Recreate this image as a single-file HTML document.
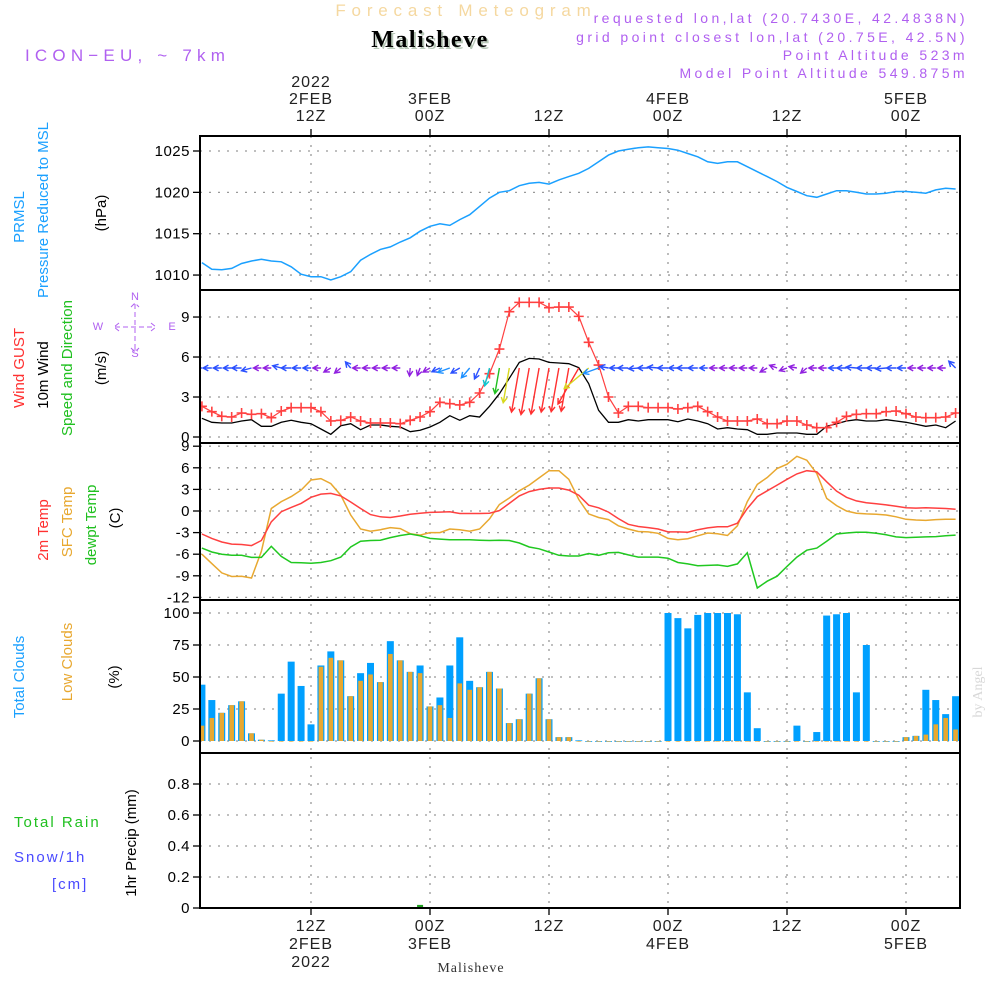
<!DOCTYPE html>
<html><head><meta charset="utf-8"><style>
html,body{margin:0;padding:0;background:#fff;}
svg{display:block;font-family:"Liberation Sans",sans-serif;}
</style></head><body>
<svg id="chart" width="1000" height="1000" viewBox="0 0 1000 1000" xmlns="http://www.w3.org/2000/svg">
<defs>
<clipPath id="c1"><rect x="200" y="136" width="760" height="154"/></clipPath>
<clipPath id="c2"><rect x="200" y="290" width="760" height="153"/></clipPath>
<clipPath id="c3"><rect x="200" y="443" width="760" height="157"/></clipPath>
<clipPath id="c4"><rect x="200" y="600" width="760" height="153"/></clipPath>
<clipPath id="c5"><rect x="200" y="753" width="760" height="155"/></clipPath>
</defs>
<g>
<text x="466" y="16" text-anchor="middle" font-size="17" fill="#f5d8a0" letter-spacing="5.8">Forecast Meteogram</text>
<text x="432" y="49" text-anchor="middle" font-size="24" font-weight="bold" font-family="Liberation Serif,serif" fill="#b8c8b8" letter-spacing="1.5">Malisheve</text>
<text x="430" y="47" text-anchor="middle" font-size="24" font-weight="bold" font-family="Liberation Serif,serif" fill="#000" letter-spacing="1.5">Malisheve</text>
<text x="25" y="61" font-size="17" fill="#b060f0" letter-spacing="5.2">ICON−EU, ~ 7km</text>
<g font-size="14" fill="#b060f0" text-anchor="end" letter-spacing="3.4">
<text x="968" y="23">requested lon,lat (20.7430E, 42.4838N)</text>
<text x="968" y="42">grid point closest lon,lat (20.75E, 42.5N)</text>
<text x="968" y="60">Point Altitude 523m</text>
<text x="968" y="78">Model Point Altitude 549.875m</text>
</g>
</g>
<g id="grid"></g>
<g id="marks"></g>
<g id="axes"></g>
<g font-size="15">
<text transform="translate(24,217) rotate(-90)" text-anchor="middle" fill="#1aa0ff">PRMSL</text>
<text transform="translate(48,210) rotate(-90)" text-anchor="middle" fill="#1aa0ff">Pressure Reduced to MSL</text>
<text transform="translate(106,213) rotate(-90)" text-anchor="middle" fill="#000">(hPa)</text>
<text transform="translate(24,368) rotate(-90)" text-anchor="middle" fill="#ff3030">Wind GUST</text>
<text transform="translate(48,375) rotate(-90)" text-anchor="middle" fill="#000">10m Wind</text>
<text transform="translate(72,368) rotate(-90)" text-anchor="middle" fill="#20c020">Speed and Direction</text>
<text transform="translate(106,368) rotate(-90)" text-anchor="middle" fill="#000">(m/s)</text>
<g fill="#b060f0" stroke="#b060f0" font-size="11">
<text x="135" y="300" text-anchor="middle" stroke="none">N</text>
<text x="135" y="357" text-anchor="middle" stroke="none">S</text>
<text x="98" y="330" text-anchor="middle" stroke="none">W</text>
<text x="172" y="330" text-anchor="middle" stroke="none">E</text>
<path d="M135 304 V351 M115 327 H155 M131 307 L135 303 L139 307 M131 348 L135 352 L139 348 M119 323 L114 327 L119 331 M151 323 L156 327 L151 331" fill="none" stroke-width="1" stroke-dasharray="5,3"/>
</g>
<text transform="translate(48,530) rotate(-90)" text-anchor="middle" fill="#ff3030">2m Temp</text>
<text transform="translate(72,522) rotate(-90)" text-anchor="middle" fill="#e8a830">SFC Temp</text>
<text transform="translate(96,525) rotate(-90)" text-anchor="middle" fill="#20c020">dewpt Temp</text>
<text transform="translate(120,518) rotate(-90)" text-anchor="middle" fill="#000">(C)</text>
<text transform="translate(24,677) rotate(-90)" text-anchor="middle" fill="#1aa0ff">Total Clouds</text>
<text transform="translate(72,662) rotate(-90)" text-anchor="middle" fill="#e8a830">Low Clouds</text>
<text transform="translate(119,677) rotate(-90)" text-anchor="middle" fill="#000">(%)</text>
<text x="14" y="827" fill="#20c020" letter-spacing="2">Total   Rain</text>
<text x="14" y="862" fill="#4a4aff" letter-spacing="2">Snow/1h</text>
<text x="52" y="889" fill="#4a4aff" letter-spacing="2">[cm]</text>
<text transform="translate(136,843) rotate(-90)" text-anchor="middle" fill="#000">1hr Precip (mm)</text>
</g>
<text transform="translate(982,692) rotate(-90)" text-anchor="middle" font-size="14" font-family="Liberation Serif,serif" fill="#d8d8d8">by Angel</text>
<text x="471" y="972" text-anchor="middle" font-size="14" font-family="Liberation Serif,serif" fill="#333" letter-spacing="1">Malisheve</text>
</svg>
<script>
// ---- data (hourly from t=1h after 00Z 2FEB) ----
const hours = Array.from({length:77},(_,i)=>i+1);
const pressure = [1011.5,1010.7,1010.65,1010.8,1011.4,1011.7,1011.9,1011.7,1011.6,1011.0,1010.1,1009.8,1009.8,1009.4,1009.8,1010.4,1011.8,1012.5,1013.1,1013.4,1014.0,1014.5,1015.3,1015.9,1016.2,1016.0,1016.7,1017.3,1018.3,1019.3,1020.0,1020.2,1020.8,1021.1,1021.2,1021.0,1021.5,1021.9,1022.3,1022.9,1023.7,1024.5,1025.0,1025.2,1025.4,1025.5,1025.4,1025.3,1025.1,1024.7,1024.3,1023.7,1023.5,1023.7,1023.7,1023.1,1022.5,1021.9,1021.3,1020.6,1020.1,1019.6,1019.4,1019.8,1020.2,1020.2,1020.0,1019.8,1019.8,1019.9,1020.1,1020.1,1020.0,1019.9,1020.3,1020.5,1020.4];
const gust = [2.3,1.9,1.55,1.5,1.8,1.7,1.75,1.45,1.95,2.2,2.2,2.2,1.9,1.2,1.25,1.5,1.2,1.05,1.05,1.05,1.0,1.25,1.5,1.9,2.6,2.5,2.4,2.6,3.3,4.75,6.6,9.4,10.1,10.1,10.1,9.7,9.75,9.75,9.05,7.1,5.4,3.0,1.8,2.3,2.3,2.2,2.2,2.2,2.1,2.2,2.3,1.9,1.5,1.2,1.2,1.2,1.35,1.0,1.0,1.2,1.2,0.9,0.7,0.7,1.1,1.55,1.7,1.75,1.75,1.9,1.95,1.75,1.5,1.45,1.45,1.5,1.8];
const windSpeed = [1.4,1.1,1.05,1.05,1.2,1.3,0.8,0.8,1.1,1.25,1.1,1.0,0.6,0.2,0.85,1.0,0.55,0.9,0.9,0.8,0.75,0.4,0.5,0.75,1.1,1.6,1.25,1.6,1.5,2.3,3.25,4.4,5.6,5.9,5.85,5.6,5.55,5.5,5.2,4.0,2.0,1.1,1.1,1.3,1.2,1.3,1.3,1.3,1.15,1.35,1.2,1.0,0.6,0.7,0.6,0.55,0.2,0.2,0.3,0.3,0.3,0.2,0.2,0.8,1.0,1.2,1.3,1.2,1.2,1.3,1.2,1.1,0.95,0.8,0.9,0.7,1.2];
const windToDeg = [180,180,180,180,180,165,180,180,195,180,180,180,180,150,140,230,180,180,180,180,180,95,110,150,155,160,150,130,115,105,100,100,100,100,100,100,100,100,120,140,160,190,180,180,175,180,185,180,180,180,180,180,180,180,180,180,180,150,200,160,190,140,180,180,180,180,185,180,180,175,180,180,180,180,180,180,225];
const temp2m = [-3.2,-3.8,-4.3,-4.6,-4.65,-4.8,-4.1,-1.5,-0.1,0.5,1.05,1.9,2.35,2.45,2.1,1.25,0.35,-0.5,-0.8,-0.9,-0.7,-0.45,-0.3,-0.2,-0.15,-0.1,-0.35,-0.35,-0.35,-0.3,0.05,1.05,2.1,2.7,3.0,3.2,3.2,2.9,2.2,0.8,0.45,-0.15,-1.05,-1.85,-2.15,-2.3,-2.5,-2.9,-2.9,-2.95,-2.6,-2.35,-2.2,-2.2,-1.7,0.35,2.0,2.8,3.6,4.4,5.15,5.6,5.45,4.05,2.75,1.9,1.4,1.15,1.0,0.85,0.65,0.45,0.4,0.45,0.4,0.35,0.25];
const tempSfc = [-6.0,-7.3,-8.6,-9.1,-9.05,-9.3,-5.6,0.35,1.3,2.0,2.9,4.3,4.5,3.8,2.2,-0.55,-2.5,-2.8,-2.6,-2.3,-2.45,-3.15,-3.35,-3.0,-3.0,-2.5,-2.6,-2.8,-2.5,-1.1,0.9,1.8,2.8,3.6,4.6,5.6,5.6,4.4,1.6,-0.4,-0.9,-1.2,-2.05,-2.5,-2.85,-2.9,-3.1,-3.8,-4.0,-3.85,-3.45,-3.05,-3.15,-3.4,-2.05,1.3,3.7,4.65,5.9,6.5,7.6,7.05,5.2,1.75,0.75,0,-0.3,-0.4,-0.45,-0.55,-0.8,-1.15,-1.25,-1.3,-1.2,-1.15,-1.15];
const dewpoint = [-5.15,-5.7,-6.0,-6.15,-6.15,-6.45,-6.45,-4.9,-6.3,-7.15,-7.2,-7.25,-7.15,-6.9,-6.4,-5.0,-4.2,-4.1,-4.05,-3.7,-3.4,-3.2,-3.45,-3.8,-3.9,-4.0,-4.0,-4.0,-4.05,-4.1,-4.05,-4.1,-4.45,-5.0,-5.25,-5.7,-6.15,-6.25,-6.25,-5.9,-6.15,-5.8,-5.75,-6.1,-6.4,-6.4,-6.4,-6.55,-7.15,-7.35,-7.6,-7.55,-7.5,-7.7,-7.35,-5.8,-10.7,-9.75,-9.05,-7.7,-6.4,-5.45,-5.15,-4.2,-3.2,-3.05,-2.95,-2.95,-3.1,-3.3,-3.6,-3.7,-3.65,-3.6,-3.55,-3.45,-3.35];
const totalClouds = [44,32,22,28,31,6,1,0.5,37,62,43,13,59,70,63,35,53,61,46,78,63,54,59,27,34,59,81,47,42,54,41,14,17,37,49,17,3,3,0.5,0,0,0,0,0,0,0,0,100,96,88,98.5,100,100,100,99,38,10,0,0,0,12,0,7,98,99,100,38,75,0,0,0,3,4,40,32,21,35];
const lowClouds = [12,18,22,28,31,6,1,0,0,0,0,0,58,65,63,35,47,52,46,68,63,54,53,27,28,18,45,40,42,54,41,14,17,37,49,17,3,3,0,0,0,0,0,0,0,0,0,0,0,0,0,0,0,0,0,0,0,0,0,0,0,0,0,0,0,0,0,0,0,0,0,3,4,5,13,18,9];
const precip = [0,0,0,0,0,0,0,0,0,0,0,0,0,0,0,0,0,0,0,0,0,0,0.02,0,0,0,0,0,0,0,0,0,0,0,0,0,0,0,0,0,0,0,0,0,0,0,0,0,0,0,0,0,0,0,0,0,0,0,0,0,0,0,0,0,0,0,0,0,0,0,0,0,0,0,0,0,0];
const pressureTicks = [1010,1015,1020,1025];
const windTicks = [0,3,6,9];
const tempTicks = [-12,-9,-6,-3,0,3,6,9];
const cloudTicks = [0,25,50,75,100];
const precipTicks = [0,0.2,0.4,0.6,0.8];
const timeTickHours = [12,24,36,48,60,72];
const topTimeLabels = [["2022","2FEB","12Z"],["3FEB","00Z"],["12Z"],["4FEB","00Z"],["12Z"],["5FEB","00Z"]];
const bottomTimeLabels = [["12Z","2FEB","2022"],["00Z","3FEB"],["12Z"],["00Z","4FEB"],["12Z"],["00Z","5FEB"]];

// ---- scales ----
const X0=200,X1=960;
const xT = t => 311 + (t-12)*119/12;
const yP = v => 151 + (1025-v)*8.27;
const yW = v => 437 - v*13.33;
const yT = v => 511 - v*7.2;
const yC = v => 741 - v*1.28;
const yR = v => 908 - v*155;
const panels = [[136,290],[290,443],[443,600],[600,753],[753,908]];

const NS="http://www.w3.org/2000/svg";
function mk(tag, attrs, parent){const e=document.createElementNS(NS,tag);for(const k in attrs)e.setAttribute(k,attrs[k]);parent.appendChild(e);return e;}
const grid=document.getElementById('grid'), marks=document.getElementById('marks'), axes=document.getElementById('axes');

const tickSets=[[pressureTicks,yP],[windTicks,yW],[tempTicks,yT],[cloudTicks,yC],[precipTicks,yR]];
tickSets.forEach(([ticks,f],pi)=>{
  ticks.forEach(v=>{
    const y=f(v);
    const gl=mk('line',{x1:X0,x2:X1,y1:y,y2:y,stroke:'#999','stroke-dasharray':'2,7','stroke-width':1.3},grid);
    
    
    const tk=mk('line',{x1:X0-7,x2:X0,y1:y,y2:y,stroke:'#000','stroke-width':1.3},axes);
    
    
    const lb=mk('text',{x:X0-10,y:y+5,'text-anchor':'end','font-size':15,fill:'#000','letter-spacing':'0.5'},axes);
    
    
    lb.textContent=String(v);
  });
});
timeTickHours.forEach((h,i)=>{
  const x=xT(h);
  const vl=mk('line',{x1:x,x2:x,y1:136,y2:908,stroke:'#999','stroke-dasharray':'2,7','stroke-width':1.3},grid);
  
  
  mk('line',{x1:x,x2:x,y1:129,y2:136,stroke:'#000','stroke-width':1.3},axes);
  mk('line',{x1:x,x2:x,y1:908,y2:915,stroke:'#000','stroke-width':1.3},axes);
  const top=topTimeLabels[i];
  top.forEach((s,j)=>{
    const tl=mk('text',{x:x,y:121-(top.length-1-j)*17,'text-anchor':'middle','font-size':16,fill:'#222','letter-spacing':'1'},axes);
    
    
    tl.textContent=s;
  });
  bottomTimeLabels[i].forEach((s,j)=>{
    const bl=mk('text',{x:x,y:931+j*18,'text-anchor':'middle','font-size':16,fill:'#222','letter-spacing':'1'},axes);
    
    
    bl.textContent=s;
  });
});
panels.forEach(([a,b])=>{
  const r=mk('rect',{x:X0,y:a,width:X1-X0,height:b-a,fill:'none',stroke:'#000','stroke-width':2},axes);
  
  
});

function linePath(arr,f){return arr.map((v,i)=>(i?'L':'M')+xT(hours[i]).toFixed(1)+' '+f(v).toFixed(1)).join(' ');}
function series(arr,f,color,clip,name,w){
  const g=mk('g',{'clip-path':'url(#'+clip+')'},marks);
  const p=mk('path',{d:linePath(arr,f),fill:'none',stroke:color,'stroke-width':w||1.5},g);
  
  
  return g;
}
series(pressure,yP,'#1aa0ff','c1','pressure-line');
series(windSpeed,yW,'#000','c2','wind-speed-line',1.3);
const gg=series(gust,yW,'#ff4040','c2','gust-line',1.2);
gust.forEach((v,i)=>{
  const x=xT(hours[i]),y=yW(v);
  const m=mk('path',{d:`M${x-5} ${y}H${x+5}M${x} ${y-5}V${y+5}`,stroke:'#ff4040','stroke-width':1.6},gg);
  
  
});
function windColor(s){
  if(s<1.0) return '#9020e0';
  if(s<1.6) return '#2a50ff';
  if(s<2.2) return '#1e90ff';
  if(s<2.8) return '#10c8d0';
  if(s<3.6) return '#20c020';
  if(s<4.6) return '#d8d820';
  if(s<5.2) return '#ff9020';
  return '#ff3030';
}
const ga=mk('g',{'clip-path':'url(#c2)'},marks);
windSpeed.forEach((s,i)=>{
  const x=xT(hours[i]),y=368;
  const a=windToDeg[i]*Math.PI/180;
  const L=Math.max(8,8*s);
  const ex=x+L*Math.cos(a),ey=y+L*Math.sin(a);
  const h1=a+Math.PI-0.5,h2=a+Math.PI+0.5;
  const d=`M${x.toFixed(1)} ${y}L${ex.toFixed(1)} ${ey.toFixed(1)}M${(ex+6*Math.cos(h1)).toFixed(1)} ${(ey+6*Math.sin(h1)).toFixed(1)}L${ex.toFixed(1)} ${ey.toFixed(1)}L${(ex+6*Math.cos(h2)).toFixed(1)} ${(ey+6*Math.sin(h2)).toFixed(1)}`;
  const ar=mk('path',{d:d,fill:'none',stroke:windColor(s),'stroke-width':1.4},ga);
  
  
});
series(tempSfc,yT,'#e8a830','c3','sfc-temp-line');
series(temp2m,yT,'#ff4040','c3','temp-2m-line');
series(dewpoint,yT,'#20c820','c3','dewpoint-line');
const gc=mk('g',{'clip-path':'url(#c4)'},marks);
totalClouds.forEach((v,i)=>{
  const x=xT(hours[i]);
  const b=mk('rect',{x:x-3.5,y:yC(v),width:7,height:Math.max(0.8,yC(0)-yC(v)),fill:'#00a0ff'},gc);
  
  
  const l=lowClouds[i];
  const b2=mk('rect',{x:x-2.3,y:yC(l),width:4.6,height:Math.max(0.6,yC(0)-yC(l)),fill:'#e8a830'},gc);
  
  
});
const gr=mk('g',{'clip-path':'url(#c5)'},marks);
precip.forEach((v,i)=>{
  const x=xT(hours[i]);
  const b=mk('rect',{x:x-3,y:yR(v),width:6,height:Math.max(0.8,yR(0)-yR(v)),fill:'#20a020'},gr);
  
  
});
</script>
</body></html>
